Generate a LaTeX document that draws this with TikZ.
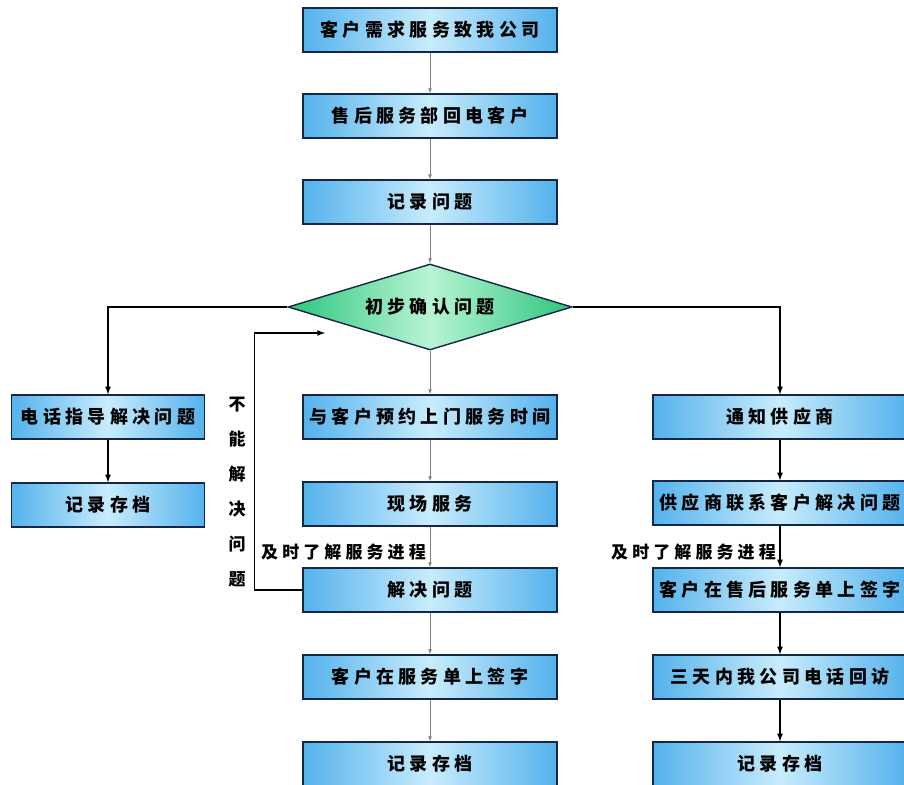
\documentclass[tikz,border=0pt]{standalone}
\usepackage{fontspec}
\newfontfamily\cjk[LetterSpace=24]{Noto Sans CJK SC}
\usetikzlibrary{shapes.geometric}
\definecolor{boxedge}{RGB}{84,178,236}
\definecolor{boxmid}{RGB}{200,236,252}
\definecolor{boxline}{RGB}{22,38,70}
\definecolor{diaedge}{RGB}{44,198,124}
\definecolor{diamid}{RGB}{184,244,212}
\tikzset{
  stepbox/.style={draw=boxline,line width=1.4pt,left color=boxedge,right color=boxedge,middle color=boxmid,
    minimum width=254pt,minimum height=44pt,inner sep=0pt,font=\cjk\bfseries\fontsize{18}{20}\selectfont},
  narrowbox/.style={stepbox,minimum width=193pt},
  decide/.style={diamond,draw=boxline,line width=1.4pt,left color=diaedge,right color=diaedge,middle color=diamid,
    aspect=3.3,minimum width=284pt,minimum height=86pt,inner sep=0pt,font=\cjk\bfseries\fontsize{18}{20}\selectfont},
  thinarrow/.style={-latex,draw=gray,line width=0.7pt},
  thickarrow/.style={-latex,draw=black,line width=1.6pt},
  note/.style={font=\cjk\bfseries\fontsize{17}{20}\selectfont,inner sep=0pt}
}
\begin{document}
\begin{tikzpicture}[x=1pt,y=-1pt]
\clip (0,0) rectangle (904,784);
\fill[white] (0,0) rectangle (904,784);
% middle column
\node[stepbox] (need) at (430,30) {客户需求服务致我公司};
\node[stepbox] (call) at (430,116) {售后服务部回电客户};
\node[stepbox] (rec) at (430,202) {记录问题};
\node[decide] (check) at (430,307) {初步确认问题};
\node[stepbox] (book) at (430,417) {与客户预约上门服务时间};
\node[stepbox] (site) at (430,504) {现场服务};
\node[stepbox] (solve) at (430,590) {解决问题};
\node[stepbox] (sign) at (430,677) {客户在服务单上签字};
\node[stepbox] (arch) at (430,764) {记录存档};
% left column
\node[narrowbox] (phone) at (108,417) {电话指导解决问题};
\node[narrowbox] (archl) at (108,505) {记录存档};
% right column
\node[stepbox] (supp) at (780,417) {通知供应商};
\node[stepbox] (suppc) at (780,503) {供应商联系客户解决问题};
\node[stepbox] (signr) at (780,590) {客户在售后服务单上签字};
\node[stepbox] (visit) at (780,677) {三天内我公司电话回访};
\node[stepbox] (archr) at (780,764) {记录存档};
% texts
\node[note,anchor=east] (trackm) at (426,552) {及时了解服务进程};
\node[note,anchor=east] (trackr) at (776,552) {及时了解服务进程};
\node[note,align=center,font=\cjk\bfseries\fontsize{17}{35}\selectfont] (fail) at (237,492)
  {不\\能\\解\\决\\问\\题};
\coordinate (loopin) at (325,333);
% connectors
\draw[thinarrow] (need) -- (call);
\draw[thinarrow] (call) -- (rec);
\draw[thinarrow] (rec) -- (check);
\draw[thinarrow] (check) -- (book);
\draw[thinarrow] (book) -- (site);
\draw[thinarrow] (site) -- (solve);
\draw[thinarrow] (solve) -- (sign);
\draw[thinarrow] (sign) -- (arch);
\draw[thickarrow] (check.west) -| (phone.north);
\draw[thickarrow] (phone) -- (archl);
\draw[thickarrow] (check.east) -| (supp.north);
\draw[thickarrow] (supp) -- (suppc);
\draw[thickarrow] (suppc) -- (signr);
\draw[thickarrow] (signr) -- (visit);
\draw[thickarrow] (visit) -- (archr);
\draw[thickarrow] (solve.west) -- ++(-48,0) |- (loopin);
\end{tikzpicture}
\end{document}
